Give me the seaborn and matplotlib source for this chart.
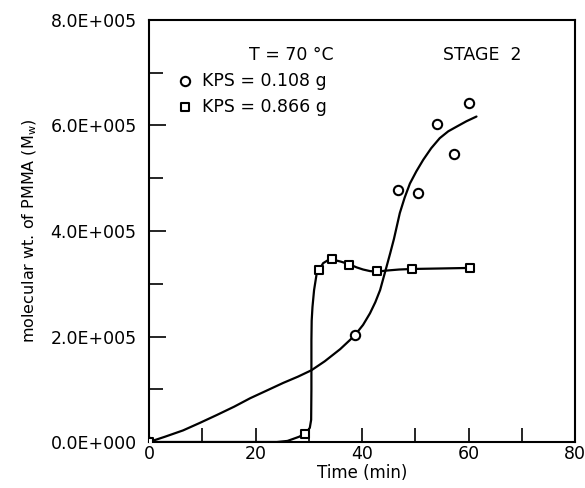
import matplotlib
matplotlib.use("Agg")
import matplotlib.pyplot as plt
import seaborn as sns
from matplotlib.ticker import MultipleLocator, FuncFormatter

sns.set_theme(style="ticks")
plt.rcParams['font.family'] = ['DejaVu Sans']
plt.rcParams['text.color'] = 'black'
plt.rcParams['axes.labelcolor'] = 'black'
plt.rcParams['xtick.color'] = 'black'
plt.rcParams['ytick.color'] = 'black'

# Measured points
kps_low_time = [0, 38.7, 46.8, 50.5, 54.1, 57.3, 60.1]
kps_low_mw = [0, 2.03e5, 4.78e5, 4.72e5, 6.03e5, 5.46e5, 6.42e5]
kps_high_time = [0, 29.3, 31.9, 34.4, 37.6, 42.8, 49.4, 60.3]
kps_high_mw = [0, 0.15e5, 3.26e5, 3.47e5, 3.36e5, 3.24e5, 3.28e5, 3.30e5]

# Fitted curves
fit_low_time = [0, 3, 6.4, 9.5, 12.7, 16, 19.0, 22, 25.2, 28, 30.5, 33, 35.9, 37.7, 38.7, 40.2, 41.5, 42.5,
                43.4, 44.0, 44.6, 45.3, 46.0, 47.1, 48.0, 49.0, 50.2, 51.5, 53.0, 54.6, 56.2, 57.8, 59.6, 61.5]
fit_low_mw = [0, 0.10e5, 0.22e5, 0.36e5, 0.51e5, 0.67e5, 0.83e5, 0.97e5, 1.12e5, 1.24e5, 1.36e5, 1.53e5,
              1.76e5, 1.93e5, 2.03e5, 2.22e5, 2.44e5, 2.65e5, 2.88e5, 3.10e5, 3.32e5, 3.58e5, 3.85e5, 4.34e5,
              4.63e5, 4.90e5, 5.13e5, 5.35e5, 5.57e5, 5.76e5, 5.89e5, 5.98e5, 6.08e5, 6.17e5]
fit_high_time = [0, 10, 20, 24, 26, 27.1, 28.2, 29.1, 29.8, 30.2, 30.45, 30.5, 30.5, 30.55, 30.7, 31.0, 31.5,
                 32.0, 32.7, 33.5, 34.4, 36.0, 37.6, 39.0, 40.2, 41.5, 42.9, 44.6, 47.0, 49.4, 55.0, 60.3]
fit_high_mw = [0, 0, 0, 0, 0.02e5, 0.06e5, 0.10e5, 0.15e5, 0.21e5, 0.27e5, 0.42e5, 1.0e5, 1.93e5, 2.30e5,
               2.56e5, 2.88e5, 3.20e5, 3.27e5, 3.39e5, 3.44e5, 3.46e5, 3.42e5, 3.37e5, 3.31e5, 3.27e5, 3.24e5,
               3.23e5, 3.25e5, 3.27e5, 3.28e5, 3.29e5, 3.30e5]

fig = plt.figure(figsize=(5.85, 4.88), dpi=100)
ax = fig.add_axes([149 / 585, 46 / 488, 426 / 585, 422 / 488])

sns.lineplot(x=fit_low_time, y=fit_low_mw, sort=False, ax=ax, color="black", lw=1.6, estimator=None)
sns.lineplot(x=fit_high_time, y=fit_high_mw, sort=False, ax=ax, color="black", lw=1.6, estimator=None)
sns.scatterplot(x=kps_low_time, y=kps_low_mw, ax=ax, marker="o", s=45, facecolor="white",
                edgecolor="black", linewidth=1.5, zorder=5)
sns.scatterplot(x=kps_high_time, y=kps_high_mw, ax=ax, marker="s", s=40, facecolor="white",
                edgecolor="black", linewidth=1.5, zorder=5)

ax.set_xlim(0, 80)
ax.set_ylim(0, 8e5)
ax.xaxis.set_major_locator(MultipleLocator(20))
ax.xaxis.set_minor_locator(MultipleLocator(10))
ax.yaxis.set_major_locator(MultipleLocator(2e5))
ax.yaxis.set_minor_locator(MultipleLocator(1e5))
ax.yaxis.set_major_formatter(FuncFormatter(lambda v, p: f"{v:.1E}".replace("E+0", "E+00")))

ax.tick_params(axis="both", which="both", direction="in", color="black", width=1.2)
ax.tick_params(axis="y", which="major", length=12, pad=9, labelsize=12.5)
ax.tick_params(axis="y", which="minor", length=10)
ax.tick_params(axis="x", which="major", length=10, pad=2, labelsize=12.5)
ax.tick_params(axis="x", which="minor", length=10)
for s in ax.spines.values():
    s.set_visible(True)
    s.set_color("black")
    s.set_linewidth(1.5)

ax.set_xlabel("Time (min)", fontsize=12, labelpad=1)
ax.set_ylabel(r"molecular wt. of PMMA ($\mathregular{M_w}$)", fontsize=11.5, labelpad=8)

ax.text(0.234, 0.918, "T = 70 °C", transform=ax.transAxes, fontsize=12.5, va="center", ha="left")
ax.text(0.69, 0.918, "STAGE  2", transform=ax.transAxes, fontsize=12.5, va="center", ha="left")
ax.scatter([0.085], [0.855], transform=ax.transAxes, marker="o", s=45, facecolor="white",
           edgecolor="black", linewidth=1.5, clip_on=False)
ax.scatter([0.085], [0.795], transform=ax.transAxes, marker="s", s=40, facecolor="white",
           edgecolor="black", linewidth=1.5, clip_on=False)
ax.text(0.125, 0.855, "KPS = 0.108 g", transform=ax.transAxes, fontsize=12.5, va="center", ha="left")
ax.text(0.125, 0.795, "KPS = 0.866 g", transform=ax.transAxes, fontsize=12.5, va="center", ha="left")

fig.savefig("out.png", dpi=100)
